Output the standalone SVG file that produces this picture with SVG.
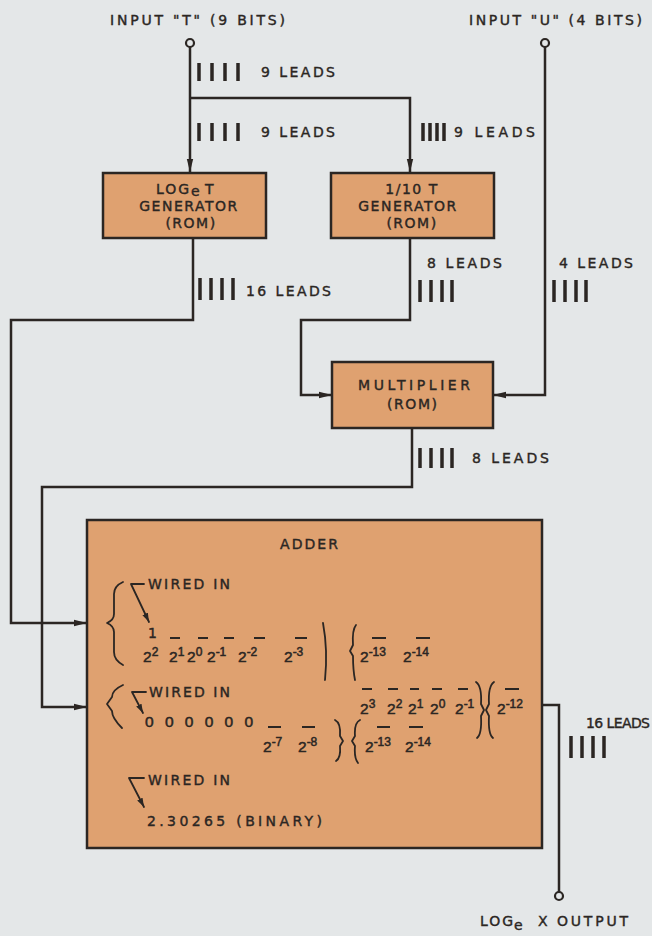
<svg xmlns="http://www.w3.org/2000/svg" width="652" height="936" viewBox="0 0 652 936">
<defs>
<style>
.bg{fill:#e4e7e8}
.box{fill:#dfa170;stroke:#2b2623;stroke-width:2.5}
.ln{fill:none;stroke:#2b2623;stroke-width:2.5;stroke-linejoin:miter}
.thin{fill:none;stroke:#2b2623;stroke-width:1.8;stroke-linecap:round;stroke-linejoin:round}
.bar{stroke:#2b2623;stroke-width:3.5}
.dash{stroke:#2b2623;stroke-width:2}
.term{fill:#e4e7e8;stroke:#2b2623;stroke-width:2.2}
text{font-family:"DejaVu Sans","Liberation Sans",Arial,sans-serif;fill:#2b2623;stroke:#2b2623;stroke-width:0.4;font-size:14px}
.bx{font-size:14px;text-anchor:middle;letter-spacing:1.5px}
.m{font-family:"Liberation Sans",Arial,sans-serif;font-size:15.5px;stroke-width:0.5}
.sup{font-size:12px}
</style>
<marker id="ah" markerWidth="13" markerHeight="8" refX="13" refY="4" orient="auto" markerUnits="userSpaceOnUse"><path d="M0,0.8 L13,4 L0,7.2 Z" fill="#2b2623"/></marker>
<marker id="ahs" markerWidth="9" markerHeight="7" refX="9" refY="3.5" orient="auto" markerUnits="userSpaceOnUse"><path d="M0,0.5 L9,3.5 L0,6.5 Z" fill="#2b2623"/></marker>
</defs>
<rect class="bg" x="0" y="0" width="652" height="936"/>

<g id="connectors">
<path class="ln" d="M190,47 V172" marker-end="url(#ah)"/>
<path class="ln" d="M190,98 H410 V172" marker-end="url(#ah)"/>
<path class="ln" d="M193,238 V320 H11 V623 H87" marker-end="url(#ah)"/>
<path class="ln" d="M410,238 V320 H301 V395 H332" marker-end="url(#ah)"/>
<path class="ln" d="M545,47 V395 H493" marker-end="url(#ah)"/>
<path class="ln" d="M412,428 V487 H42 V707 H87" marker-end="url(#ah)"/>
<path class="ln" d="M542,705 H559 V892"/>
<g id="leads">
<g class="bar"><line x1="199" y1="63" x2="199" y2="81"/><line x1="212" y1="63" x2="212" y2="81"/><line x1="225" y1="63" x2="225" y2="81"/><line x1="238" y1="63" x2="238" y2="81"/></g>
<text x="261" y="77" textLength="74">9 LEADS</text>
<g class="bar"><line x1="199" y1="123" x2="199" y2="141"/><line x1="212" y1="123" x2="212" y2="141"/><line x1="225" y1="123" x2="225" y2="141"/><line x1="238" y1="123" x2="238" y2="141"/></g>
<text x="261" y="137" textLength="74">9 LEADS</text>
<g class="bar"><line x1="423" y1="123" x2="423" y2="141"/><line x1="430" y1="123" x2="430" y2="141"/><line x1="437" y1="123" x2="437" y2="141"/><line x1="444" y1="123" x2="444" y2="141"/></g>
<text x="454" y="137" textLength="81">9 LEADS</text>
<g class="bar"><line x1="200" y1="278" x2="200" y2="300"/><line x1="211" y1="278" x2="211" y2="300"/><line x1="222" y1="278" x2="222" y2="300"/><line x1="233" y1="278" x2="233" y2="300"/></g>
<text x="246" y="296" textLength="85">16 LEADS</text>
<text x="427" y="268" textLength="75">8 LEADS</text>
<g class="bar"><line x1="420" y1="280" x2="420" y2="302"/><line x1="431" y1="280" x2="431" y2="302"/><line x1="442" y1="280" x2="442" y2="302"/><line x1="452" y1="280" x2="452" y2="302"/></g>
<text x="559" y="268" textLength="74">4 LEADS</text>
<g class="bar"><line x1="554" y1="280" x2="554" y2="302"/><line x1="565" y1="280" x2="565" y2="302"/><line x1="576" y1="280" x2="576" y2="302"/><line x1="586" y1="280" x2="586" y2="302"/></g>
<g class="bar"><line x1="420" y1="448" x2="420" y2="468"/><line x1="431" y1="448" x2="431" y2="468"/><line x1="442" y1="448" x2="442" y2="468"/><line x1="452" y1="448" x2="452" y2="468"/></g>
<text x="472" y="463" textLength="77">8 LEADS</text>
<text x="586" y="728" textLength="64">16 LEADS</text>
<g class="bar"><line x1="571" y1="736" x2="571" y2="758"/><line x1="582" y1="736" x2="582" y2="758"/><line x1="593" y1="736" x2="593" y2="758"/><line x1="604" y1="736" x2="604" y2="758"/></g>
</g>
</g>

<g id="input-t">
<text x="110" y="25" textLength="175">INPUT "T" (9 BITS)</text>
<circle class="term" cx="190" cy="43" r="4"/>
</g>
<g id="input-u">
<text x="469" y="25" textLength="173">INPUT "U" (4 BITS)</text>
<circle class="term" cx="545" cy="43" r="4"/>
</g>

<g id="log-gen">
<rect class="box" x="103" y="173" width="163" height="65"/>
<text x="156" y="194" textLength="33">LOG</text>
<text x="191" y="196" font-size="10">e</text>
<text x="205" y="194">T</text>
<text class="bx" x="189" y="211">GENERATOR</text>
<text class="bx" x="191" y="228">(ROM)</text>
</g>

<g id="inv-gen">
<rect class="box" x="331" y="173" width="163" height="65"/>
<text class="bx" x="412" y="194">1/10 T</text>
<text class="bx" x="408" y="211">GENERATOR</text>
<text class="bx" x="412" y="228">(ROM)</text>
</g>

<g id="multiplier">
<rect class="box" x="332" y="362" width="161" height="66"/>
<text x="358" y="390" font-size="15" textLength="112">MULTIPLIER</text>
<text x="387" y="409" font-size="15" textLength="50">(ROM)</text>
</g>

<g id="adder">
<rect class="box" x="87" y="520" width="455" height="328"/>
<text x="280" y="549" font-size="15" textLength="58">ADDER</text>
<!-- row 1 -->
<path class="thin" d="M123,582 Q114,586 114,594 L114,614 Q114,620 107,623 Q114,626 114,632 L114,652 Q114,660 123,665"/>
<path class="thin" d="M144,584 H131 L149,622" marker-end="url(#ahs)"/>
<text x="148" y="589" textLength="82">WIRED IN</text>
<text x="148" y="638" font-size="11">1</text>
<g class="dash"><line x1="170" y1="638" x2="180" y2="638"/><line x1="198" y1="638" x2="208" y2="638"/><line x1="224" y1="638" x2="234" y2="638"/><line x1="254" y1="638" x2="265" y2="638"/><line x1="295" y1="638" x2="307" y2="638"/><line x1="372" y1="638" x2="386" y2="638"/><line x1="416" y1="638" x2="430" y2="638"/></g>
<text class="m" x="143" y="662">2<tspan class="sup" dy="-6">2</tspan></text>
<text class="m" x="169" y="662">2<tspan class="sup" dy="-6">1</tspan></text>
<text class="m" x="187" y="662">2<tspan class="sup" dy="-6">0</tspan></text>
<text class="m" x="207" y="662">2<tspan class="sup" dy="-6">-1</tspan></text>
<text class="m" x="238" y="662">2<tspan class="sup" dy="-6">-2</tspan></text>
<text class="m" x="284" y="662">2<tspan class="sup" dy="-6">-3</tspan></text>
<path class="thin" d="M323,623 Q328,650 325,680"/>
<path class="thin" d="M356,625 Q352,630 353,645 L350,651 L353,656 Q353,670 355,680"/>
<text class="m" x="360" y="662">2<tspan class="sup" dy="-6">-13</tspan></text>
<text class="m" x="403" y="662">2<tspan class="sup" dy="-6">-14</tspan></text>
<!-- row 2 -->
<path class="thin" d="M123,685 Q112,690 112,697 L107,704 L112,711 Q112,718 122,728"/>
<path class="thin" d="M146,692 H132 L143,713" marker-end="url(#ahs)"/>
<text x="149" y="697" textLength="81">WIRED IN</text>
<text class="m" x="145" y="727" textLength="108">0 0 0 0 0 0</text>
<g class="dash"><line x1="268" y1="727" x2="281" y2="727"/><line x1="302" y1="727" x2="315" y2="727"/><line x1="377" y1="727" x2="390" y2="727"/><line x1="409" y1="727" x2="423" y2="727"/><line x1="362" y1="689" x2="372" y2="689"/><line x1="388" y1="689" x2="398" y2="689"/><line x1="410" y1="689" x2="419" y2="689"/><line x1="432" y1="689" x2="442" y2="689"/><line x1="458" y1="689" x2="468" y2="689"/><line x1="505" y1="689" x2="519" y2="689"/></g>
<text class="m" x="263" y="752">2<tspan class="sup" dy="-6">-7</tspan></text>
<text class="m" x="298" y="752">2<tspan class="sup" dy="-6">-8</tspan></text>
<path class="thin" d="M335,720 Q341,723 340,736 L343,741 L340,746 Q341,758 336,761"/>
<path class="thin" d="M360,720 Q354,723 355,736 L352,741 L355,746 Q354,758 358,763"/>
<text class="m" x="365" y="752">2<tspan class="sup" dy="-6">-13</tspan></text>
<text class="m" x="405" y="752">2<tspan class="sup" dy="-6">-14</tspan></text>
<text class="m" x="360" y="714">2<tspan class="sup" dy="-6">3</tspan></text>
<text class="m" x="387" y="714">2<tspan class="sup" dy="-6">2</tspan></text>
<text class="m" x="408" y="714">2<tspan class="sup" dy="-6">1</tspan></text>
<text class="m" x="430" y="714">2<tspan class="sup" dy="-6">0</tspan></text>
<text class="m" x="455" y="714">2<tspan class="sup" dy="-6">-1</tspan></text>
<path class="thin" d="M476,682 Q482,686 481,704 L484,710 L481,716 Q482,734 477,738"/>
<path class="thin" d="M494,682 Q488,686 489,704 L486,710 L489,716 Q488,734 493,738"/>
<text class="m" x="497" y="714">2<tspan class="sup" dy="-6">-12</tspan></text>
<!-- row 3 -->
<path class="thin" d="M144,778 H129 L144,807" marker-end="url(#ahs)"/>
<text x="148" y="785" textLength="82">WIRED IN</text>
<text x="147" y="826" font-size="15" textLength="175">2.30265 (BINARY)</text>
</g>

<g id="output">
<circle class="term" cx="559" cy="896" r="4"/>
<text x="480" y="926" font-size="15" textLength="33">LOG</text>
<text x="514" y="930" font-size="10">e</text>
<text x="538" y="926" font-size="15">X</text>
<text x="557" y="926" font-size="15" textLength="71">OUTPUT</text>
</g>
</svg>
